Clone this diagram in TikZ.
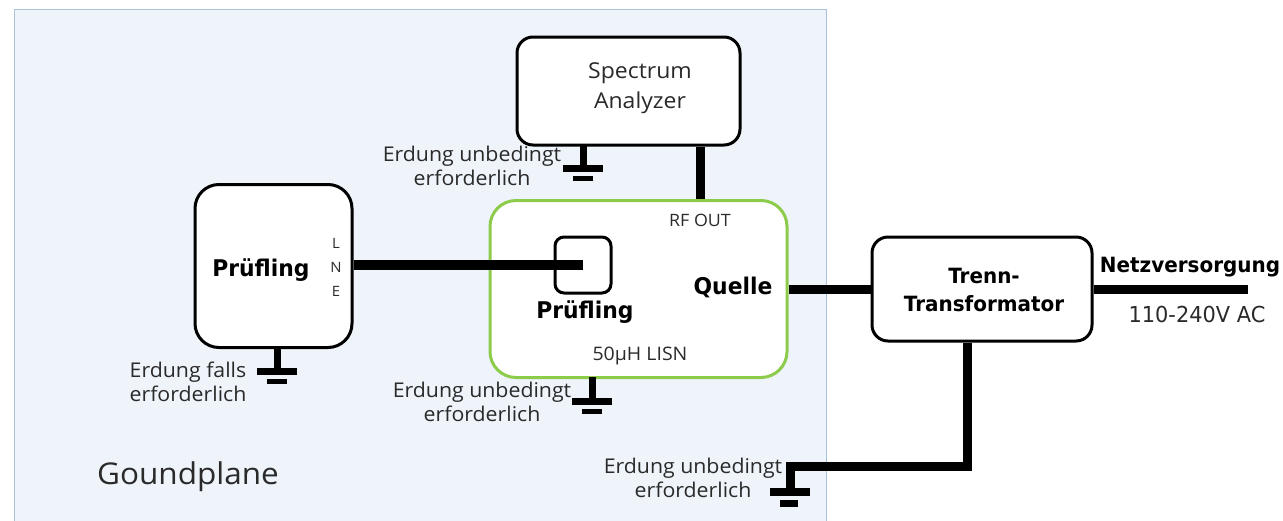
\documentclass[tikz,border=0pt]{standalone}
\usepackage{fontspec}
\setmainfont{Open Sans}[FakeStretch=1.05]
\newfontfamily\vfont{DejaVu Sans}[FakeStretch=0.95]
\definecolor{planefill}{HTML}{EEF4FA}
\definecolor{planeedge}{HTML}{A9C1D9}
\definecolor{lisngreen}{HTML}{8DCB4B}
\definecolor{labelgray}{HTML}{2A2A2A}
\begin{document}
\begin{tikzpicture}[x=1pt,y=-1pt,
  box/.style={draw=black, line width=3pt, fill=white, rounded corners=16pt, inner sep=0pt},
  wire/.style={line width=9pt},
  lbl/.style={font=\fontsize{20.3}{24}\selectfont, text=labelgray, align=center, inner sep=0pt},
  boldlbl/.style={font=\vfont\bfseries\fontsize{23}{28}\selectfont, align=center, inner sep=0pt},
  gnd/.pic={
    \draw[line width=7pt] (0,0) -- (0,23);
    \fill (-20,21) rectangle (20,28);
    \fill (-10,32) rectangle (10,37);
  }]
\useasboundingbox (0,0) rectangle (1283,520);
% ground plane
\node[draw=planeedge, fill=planefill, line width=1.2pt, minimum width=812pt, minimum height=530pt, inner sep=0pt, anchor=north west] (plane) at (14,9) {};
\node[font=\fontsize{30}{34}\selectfont, text=labelgray, inner sep=0pt] (gp) at (188,477) {Goundplane};

% boxes
\node[box, minimum width=223pt, minimum height=108pt] (sa) at (628.5,91) {};
\node[lbl, font=\fontsize{21.9}{30}\selectfont] (satext) at (640,88) {Spectrum\\Analyzer};

\node[box, draw=lisngreen, minimum width=297pt, minimum height=177pt, rounded corners=26pt] (lisn) at (638.5,289) {};
\node[box, minimum width=56pt, minimum height=56pt, rounded corners=9pt] (inner) at (583,265) {};

\node[box, minimum width=157pt, minimum height=163pt, rounded corners=24pt] (dut) at (273.5,266) {};
\node[box, minimum width=220pt, minimum height=104pt] (trafo) at (982,289) {};

% texts in boxes
\node[boldlbl] (dutlbl) at (261,270) {Prüfling};
\node[lbl, font=\fontsize{14.2}{24}\selectfont] (lne) at (336,267) {L\\N\\E};
\node[lbl, font=\fontsize{17}{18}\selectfont] (rfout) at (700,220) {RF OUT};
\node[boldlbl] (innerlbl) at (585,312) {Prüfling};
\node[boldlbl] (quelle) at (733,287) {Quelle};
\node[lbl, font=\fontsize{18.6}{22}\selectfont] (lisnlbl) at (640,356) {50µH LISN};
\node[boldlbl, font=\vfont\bfseries\fontsize{21}{28}\selectfont] (trafolbl) at (984,290) {Trenn-\\Transformator};
\node[boldlbl, font=\vfont\bfseries\fontsize{21}{24}\selectfont] (netz) at (1190,267) {Netzversorgung};
\node[lbl, font=\vfont\fontsize{22}{24}\selectfont] (volt) at (1197,314) {110-240V AC};

% wires
\coordinate (rfx) at (700,0);
\draw[wire] (sa.south -| rfx) -- (lisn.north -| rfx);
\draw[wire, line width=10pt] (dut.east |- inner.center) -- (inner.center);
\draw[wire] (lisn.east) -- (trafo.west);
\coordinate (net) at (1248,289);
\draw[wire] (trafo.east) -- (net);
\coordinate (tgx) at (967,0);
\coordinate (tgcorner) at (967,466);
\coordinate (tgend) at (790,466);
\coordinate (tgbot) at (790,489);
\draw[wire, line join=miter] (trafo.south -| tgx) -- (tgcorner) -- (tgend) -- (tgbot);

% grounds
\coordinate (g1) at (583,144);
\pic at (g1) {gnd};
\node[lbl] (g1lbl) at (472,166) {Erdung unbedingt\\erforderlich};

\coordinate (g2) at (277,347);
\pic at (g2) {gnd};
\node[lbl] (g2lbl) at (188,382) {Erdung falls\\erforderlich};

\coordinate (g3) at (592,377);
\pic at (g3) {gnd};
\node[lbl] (g3lbl) at (482,402) {Erdung unbedingt\\erforderlich};

\fill (770,488) rectangle (810,496);
\fill (780,500) rectangle (798,507);
\node[lbl] (g4lbl) at (693,478) {Erdung unbedingt\\erforderlich};
\end{tikzpicture}
\end{document}
